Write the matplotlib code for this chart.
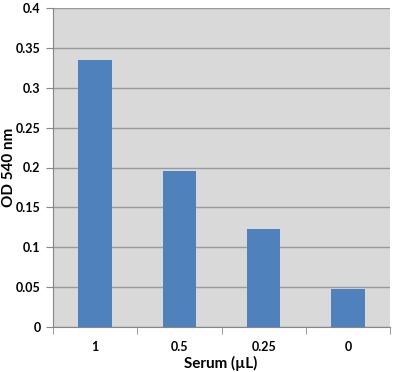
import numpy as np
import matplotlib.pyplot as plt

# serum dilution vs absorbance
serum = ['1', '0.5', '0.25', '0']
od540 = [0.335, 0.196, 0.123, 0.048]

plt.rcParams['font.family'] = ['Lato', 'DejaVu Sans']

fig = plt.figure(figsize=(4.0, 3.72), dpi=100)
ax = fig.add_axes([53/400, 1-327/372, (390-53)/400, (327-8)/372])

x = np.arange(len(serum))
ax.bar(x, od540, width=0.4, color='#4f81bd', zorder=3)

ax.set_facecolor('#d9d9d9')
ax.set_xlim(-0.5, len(serum)-0.5)
ax.set_ylim(0, 0.4)
ax.set_yticks(np.arange(0, 0.41, 0.05))
ax.set_yticklabels(['0', '0.05', '0.1', '0.15', '0.2', '0.25', '0.3', '0.35', '0.4'])
ax.yaxis.grid(True, color='#9a9a9a', linewidth=1, zorder=0)

ax.set_xticks(x)
ax.set_xticklabels(serum)
ax.set_xticks(np.arange(-0.5, len(serum)), minor=True)
ax.tick_params(axis='x', which='major', length=0, pad=10)
ax.tick_params(axis='x', which='minor', length=5, color='#868686')
ax.tick_params(axis='y', length=5, color='#868686', pad=4)
for lab in ax.get_xticklabels() + ax.get_yticklabels():
    lab.set_fontsize(9)
    lab.set_fontweight('bold')

for side in ['top', 'right']:
    ax.spines[side].set_visible(False)
for side in ['left', 'bottom']:
    ax.spines[side].set_color('#868686')

# axis titles placed in figure coords so they stay inside the canvas
fig.text(221/400, 1-363/372, 'Serum (µL)', fontsize=11, fontweight='bold',
         ha='center', va='center')
fig.text(9/400, 1-167/372, 'OD 540 nm', fontsize=11, fontweight='bold',
         ha='center', va='center', rotation=90)

fig.savefig('out.png', dpi=100, facecolor='white')
